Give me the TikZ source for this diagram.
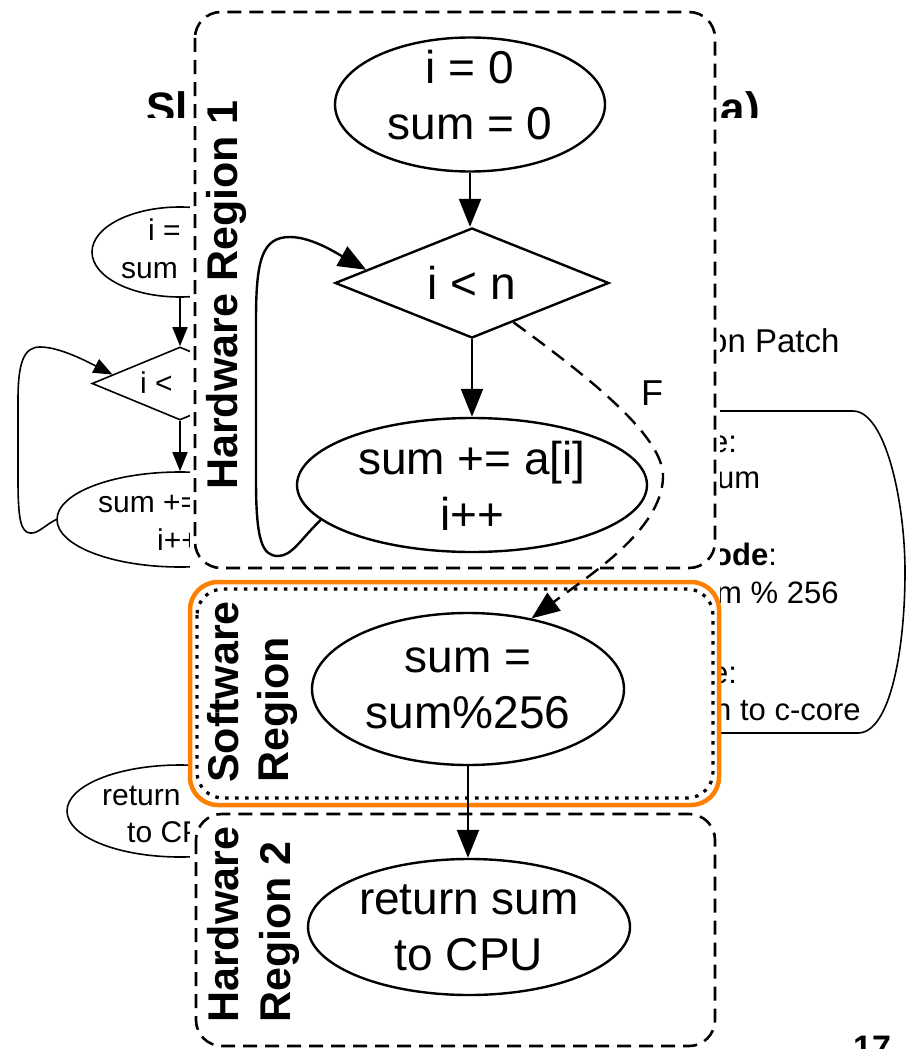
\documentclass[tikz,border=0pt]{standalone}
\usepackage{fontspec}
\setmainfont{Liberation Sans}
\usetikzlibrary{arrows.meta,shapes.geometric,calc}
\definecolor{swOrange}{RGB}{255,127,0}
\tikzset{
  % main flowchart (front layer)
  flowline/.style={draw=black, line width=2.4pt},
  bigell/.style={flowline, ellipse, inner sep=0pt},
  bigdia/.style={flowline, diamond, aspect=2.4, inner sep=0pt},
  bigtxt/.style={align=center, inner sep=0pt, font=\fontsize{46}{56}\selectfont},
  link/.style={line width=2.4pt, -{Triangle[length=28pt,width=22pt]}},
  falselink/.style={link, dash pattern=on 15pt off 9pt},
  region/.style={line width=2.6pt, rounded corners=26pt, dash pattern=on 14pt off 8pt},
  swregion/.style={line width=3.2pt, rounded corners=26pt, dash pattern=on 3.5pt off 6.5pt},
  highlight/.style={draw=swOrange, line width=4.5pt, rounded corners=28pt},
  regionlabel/.style={rotate=90, anchor=base west, inner sep=0pt,
    font=\fontsize{43}{50}\selectfont\bfseries},
  % background slide
  smallline/.style={draw=black, line width=1.6pt},
  smallell/.style={smallline, ellipse, inner sep=0pt},
  smalldia/.style={smallline, diamond, aspect=2.4, inner sep=0pt},
  smalllink/.style={line width=1.6pt, -{Triangle[length=19pt,width=15pt]}},
  smalltxt/.style={anchor=base west, inner sep=0pt, font=\fontsize{30}{36}\selectfont},
  patchtxt/.style={anchor=base west, inner sep=0pt, font=\fontsize{31}{36}\selectfont},
  titletxt/.style={inner sep=0pt, font=\fontsize{44}{50}\selectfont\bfseries}
}
\begin{document}
\begin{tikzpicture}[x=1pt,y=-1pt]
\useasboundingbox (0,0) rectangle (911,1049);
\clip (0,0) rectangle (911,1049);
\fill[white] (0,0) rectangle (911,1049);

% ---------- slide underneath ----------
\begin{scope}
  \clip (0,0) rectangle (911,117);
  \node[titletxt, anchor=base west] (ttlL) at (146,123) {Sl};
  \node[titletxt, anchor=base east] (ttlR) at (760,123) {a)};
\end{scope}

% small flowchart on the left
\node[smallell, minimum width=176pt, minimum height=90pt] (l1) at (180,252) {};
\node[smalldia, minimum width=176pt, minimum height=73pt] (l2) at (180,383.5) {};
\node[smallell, minimum width=246pt, minimum height=95pt] (l3) at (180,519.5) {};
\node[smallell, minimum width=226pt, minimum height=92pt] (l4) at (180,811) {};
\node[smalltxt] (l1a) at (148,240) {i =};
\node[smalltxt] (l1b) at (121,278) {sum};
\node[smalltxt] (l2a) at (140,393) {i <};
\node[smalltxt] (l3a) at (98,512) {sum +=};
\node[smalltxt] (l3b) at (157,550) {i++};
\node[smalltxt] (l4a) at (102,805) {return};
\node[smalltxt] (l4b) at (127,842) {to CP};
\draw[smalllink] (l1.south) -- (l2.north);
\draw[smalllink] (l2.south) -- (l3.north);
\coordinate (l2in) at ($(l2.west)!0.24!(l2.north)$);
\draw[smalllink] (l3.west) .. controls (45,525) and (38,534) .. (30,533)
  .. controls (21,532) and (18,520) .. (18,480) -- (18,400)
  .. controls (18,362) and (24,347) .. (40,347)
  .. controls (60,347) and (88,362) .. (l2in);

% patch box on the right
\draw[smallline] (715,411) -- (853,411)
  .. controls (885,411) and (905,500) .. (905,572)
  .. controls (905,650) and (890,733) .. (858,733) -- (715,733);
\node[patchtxt, font=\fontsize{33}{38}\selectfont] (p0) at (709,352) {on Patch};
\node[patchtxt] (p1) at (711,452) {e:};
\node[patchtxt] (p2) at (717,488) {um};
\node[patchtxt] (p3) at (713,565) {\textbf{ode}:};
\node[patchtxt] (p4) at (716,603) {m \% 256};
\node[patchtxt] (p5) at (711,683) {e:};
\node[patchtxt] (p6) at (714,720) {n to c-core};
\node[titletxt, anchor=base west, font=\fontsize{34}{40}\selectfont\bfseries] (pg) at (853,1059) {17};

% ---------- front panel ----------
\fill[white] (190,0) rectangle (720,1049);

% region frames
\draw[region] (195,12) rectangle (715,568);
\draw[swregion] (197,589) rectangle (713,798);
\draw[highlight] (190,582) rectangle (719,805);
\draw[region] (196,814) rectangle (715,1046);

\node[regionlabel] (hr1) at (237,490) {Hardware Region 1};
\node[regionlabel] (sw1) at (238,783) {Software};
\node[regionlabel] (sw2) at (288,783) {Region};
\node[regionlabel] (hr2a) at (238,1023) {Hardware};
\node[regionlabel] (hr2b) at (290,1023) {Region 2};

% nodes
\node[bigell, minimum width=270pt, minimum height=134pt] (e1) at (470,104.5) {};
\node[bigdia, minimum width=274pt, minimum height=110pt] (d) at (472,283) {};
\node[bigell, minimum width=350pt, minimum height=134pt] (e2) at (472,485) {};
\node[bigell, minimum width=312pt, minimum height=152pt] (e3) at (468,689) {};
\node[bigell, minimum width=322pt, minimum height=136pt] (e4) at (469,927) {};

\node[bigtxt] (t1) at (470,95) {i = 0\\sum = 0};
\node[bigtxt] (td) at (472,283) {i < n};
\node[bigtxt] (t2) at (472,486) {sum += a[i]\\i++};
\node[bigtxt] (t3) at (468,688) {sum =\\sum\%256};
\node[bigtxt] (t4) at (469,928) {return sum\\to CPU};

% connectors
\draw[link] (e1.south) -- (e1.south |- d.north);
\draw[link] (d.south) -- (d.south |- e2.north);
\coordinate (din) at ($(d.west)!0.235!(d.north)$);
\draw[link] (e2.193) .. controls (300,540) and (292,556) .. (278,556)
  .. controls (262,556) and (256,540) .. (256,480) -- (256,320)
  .. controls (256,260) and (262,237) .. (290,237)
  .. controls (312,237) and (338,254) .. (din);
\coordinate (dout) at ($(d.south)!0.3!(d.east)$);
\draw[falselink] (dout) .. controls (600,385) and (665,440) .. (663,478)
  .. controls (661,530) and (590,575) .. (e3.48);
\node[inner sep=0pt, font=\fontsize{36}{40}\selectfont] (flab) at (652,393) {F};
\draw[link] (e3.south) -- (e3.south |- e4.north);
\end{tikzpicture}
\end{document}
